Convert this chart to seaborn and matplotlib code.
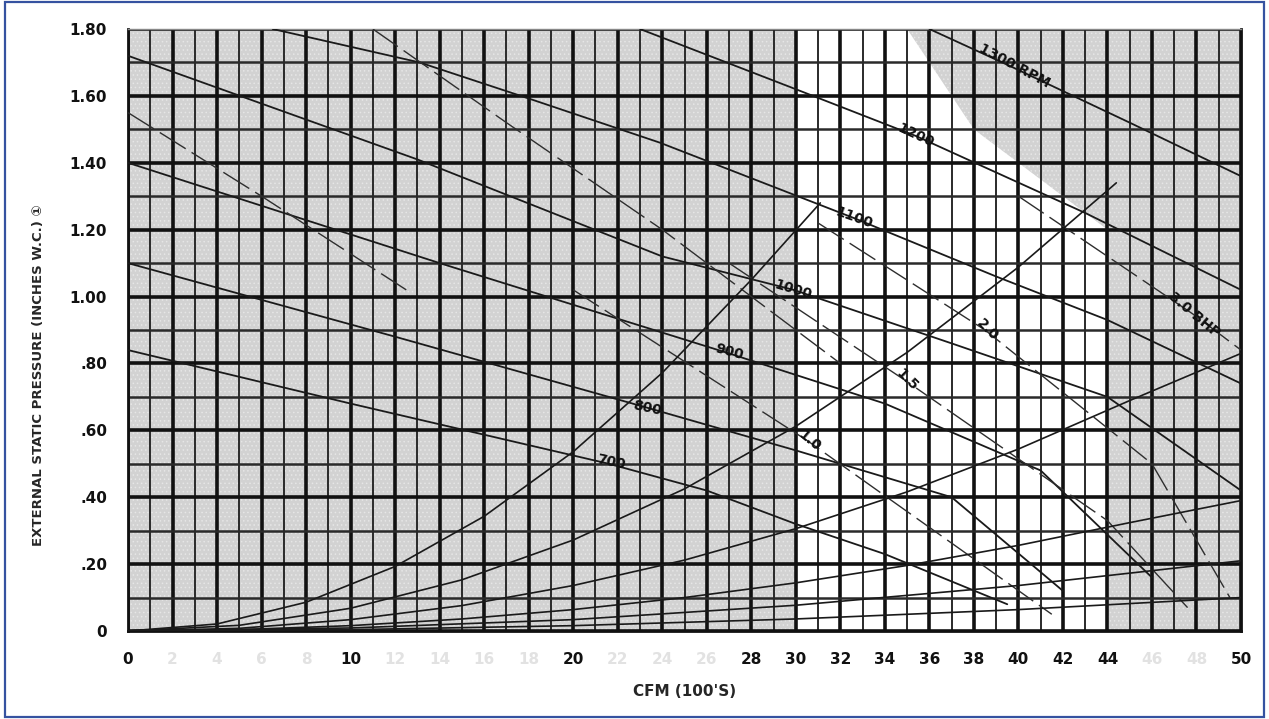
import numpy as np
import pandas as pd
import matplotlib
matplotlib.use("Agg")
import matplotlib.pyplot as plt
import seaborn as sns
from matplotlib.patches import Rectangle, Polygon

sns.set_theme(style="white")
plt.rcParams["font.family"] = ["DejaVu Sans"]
plt.rcParams["hatch.linewidth"] = 0.6

# ---------------- data ----------------
x_major_ticks = list(range(0, 51, 2))
x_labels_printed = [0, 10, 20, 28, 30, 32, 34, 36, 38, 40, 42, 44, 50]
y_major_ticks = [0.0, 0.2, 0.4, 0.6, 0.8, 1.0, 1.2, 1.4, 1.6, 1.8]
y_tick_labels = ["0", ".20", ".40", ".60", ".80", "1.00", "1.20", "1.40", "1.60", "1.80"]

# fan RPM curves (CFM in 100's, static pressure in. W.C.)
rpm_700_x = [0, 10, 21.6, 26, 30, 34, 39.5]
rpm_700_y = [0.84, 0.68, 0.50, 0.42, 0.32, 0.23, 0.08]
rpm_800_x = [0, 12, 23.2, 30, 37, 42]
rpm_800_y = [1.10, 0.88, 0.67, 0.54, 0.40, 0.12]
rpm_900_x = [0, 14, 27, 34, 41, 46]
rpm_900_y = [1.40, 1.10, 0.83, 0.68, 0.48, 0.16]
rpm_1000_x = [0, 13, 24, 29.9, 37, 44, 50]
rpm_1000_y = [1.72, 1.41, 1.12, 1.02, 0.86, 0.70, 0.42]
rpm_1100_x = [6.5, 13.1, 18.1, 23.9, 32.6, 39, 44, 50]
rpm_1100_y = [1.80, 1.70, 1.59, 1.46, 1.235, 1.06, 0.93, 0.74]
rpm_1200_x = [23, 30, 35.4, 43, 50]
rpm_1200_y = [1.80, 1.62, 1.48, 1.25, 1.02]
rpm_1300_x = [36, 39.6, 45, 50]
rpm_1300_y = [1.80, 1.69, 1.52, 1.36]

# brake horsepower lines
bhp_0_5_x = [0, 6, 12.5]
bhp_0_5_y = [1.55, 1.30, 1.02]
bhp_0_75_x = [11, 17, 24, 32]
bhp_0_75_y = [1.80, 1.52, 1.20, 0.80]
bhp_1_0_x = [20, 30.5, 41.5]
bhp_1_0_y = [1.02, 0.57, 0.05]
bhp_1_5_x = [27, 34.9, 44, 47.6]
bhp_1_5_y = [1.10, 0.75, 0.33, 0.07]
bhp_2_0_x = [31, 38.5, 46, 49.5]
bhp_2_0_y = [1.22, 0.90, 0.50, 0.10]
bhp_3_0_x = [40, 47.9, 50]
bhp_3_0_y = [1.30, 0.945, 0.84]

# system curves from the origin
sys_a_x = [0, 4, 8, 12, 16, 20, 24, 28, 31.1]
sys_a_y = [0, 0.021, 0.086, 0.193, 0.343, 0.536, 0.772, 1.05, 1.28]
sys_b_x = [0, 5, 10, 15, 20, 25, 30, 35, 40, 44.4]
sys_b_y = [0, 0.017, 0.068, 0.153, 0.272, 0.425, 0.612, 0.833, 1.088, 1.34]
sys_c_x = [0, 5, 10, 15, 20, 25, 30, 35, 40, 45, 50]
sys_c_y = [0, 0.008, 0.034, 0.076, 0.136, 0.212, 0.306, 0.416, 0.544, 0.689, 0.83]
sys_d_x = [0, 5, 10, 15, 20, 25, 30, 35, 40, 45, 50]
sys_d_y = [0, 0.004, 0.016, 0.036, 0.064, 0.100, 0.144, 0.196, 0.256, 0.324, 0.39]
sys_e_x = [0, 10, 20, 30, 40, 50]
sys_e_y = [0, 0.009, 0.034, 0.077, 0.136, 0.21]
sys_f_x = [0, 10, 20, 30, 40, 50]
sys_f_y = [0, 0.004, 0.016, 0.036, 0.064, 0.10]

rpm_names = ["700", "800", "900", "1000", "1100", "1200", "1300 RPM"]
bhp_names = ["1.0", "1.5", "2.0", "3.0 BHP"]

# ---------------- figure ----------------
fig = plt.figure(figsize=(12.69, 7.19), dpi=100)
ax = fig.add_axes([128 / 1269, 88 / 719, (1241 - 128) / 1269, (631 - 29) / 719])
ax.set_xlim(0, 50)
ax.set_ylim(0, 1.8)

# paper shading (screened grey with a white window)
ax.set_facecolor("#d2d2d2")
ax.add_patch(Rectangle((0, 0), 50, 1.8, facecolor="none", edgecolor="#e6e6e6",
                       hatch="....", lw=0, zorder=0.2))
white_zone = Polygon([(30, 0), (44, 0), (44, 1.20), (38, 1.50), (35, 1.80), (30, 1.80)],
                     closed=True, facecolor="white", edgecolor="none", zorder=0.5)
ax.add_patch(white_zone)

# grid
ax.set_xticks(x_major_ticks)
ax.set_xticks(np.arange(1, 50, 2), minor=True)
ax.set_yticks(y_major_ticks)
ax.set_yticks(np.arange(0.1, 1.8, 0.2), minor=True)
ax.grid(which="major", axis="x", color="#111111", lw=2.6, zorder=1)
ax.grid(which="minor", axis="x", color="#2a2a2a", lw=1.4, zorder=1)
ax.grid(which="major", axis="y", color="#111111", lw=2.6, zorder=1)
ax.grid(which="minor", axis="y", color="#2a2a2a", lw=1.8, zorder=1)
ax.set_axisbelow(True)

def draw(xs, ys, lw, color="#1a1a1a", ls="-"):
    sns.lineplot(x=xs, y=ys, ax=ax, color=color, lw=lw, sort=False,
                 estimator=None, zorder=3, linestyle=ls)

for xs, ys in [(rpm_700_x, rpm_700_y), (rpm_800_x, rpm_800_y), (rpm_900_x, rpm_900_y),
               (rpm_1000_x, rpm_1000_y), (rpm_1100_x, rpm_1100_y),
               (rpm_1200_x, rpm_1200_y), (rpm_1300_x, rpm_1300_y)]:
    draw(xs, ys, 1.3)
for xs, ys in [(bhp_0_5_x, bhp_0_5_y), (bhp_0_75_x, bhp_0_75_y),
               (bhp_1_0_x, bhp_1_0_y), (bhp_1_5_x, bhp_1_5_y),
               (bhp_2_0_x, bhp_2_0_y), (bhp_3_0_x, bhp_3_0_y)]:
    draw(xs, ys, 1.0, "#2e2e2e", (0, (22, 5)))
for xs, ys in [(sys_a_x, sys_a_y), (sys_b_x, sys_b_y), (sys_c_x, sys_c_y),
               (sys_d_x, sys_d_y), (sys_e_x, sys_e_y), (sys_f_x, sys_f_y)]:
    draw(xs, ys, 1.2)

# curve labels
rpm_label_pos = [(21.7, 0.505, -12), (23.3, 0.667, -12), (27.0, 0.834, -15),
                 (29.9, 1.02, -17), (32.6, 1.235, -20), (35.4, 1.48, -25),
                 (39.8, 1.69, -28)]
for name, (lx, ly, rot) in zip(rpm_names, rpm_label_pos):
    ax.text(lx, ly, name, rotation=rot, ha="center", va="center", fontsize=10,
            fontweight="bold", color="#111111", zorder=5)
bhp_label_pos = [(30.6, 0.57, -40), (35.0, 0.75, -45), (38.6, 0.90, -45), (47.9, 0.945, -40)]
for name, (lx, ly, rot) in zip(bhp_names, bhp_label_pos):
    ax.text(lx, ly, name, rotation=rot, ha="center", va="center", fontsize=10,
            fontweight="bold", color="#111111", zorder=5)

# ticks
ax.set_xticklabels([str(v) for v in x_major_ticks])
for lab, v in zip(ax.get_xticklabels(), x_major_ticks):
    lab.set_color("#111111" if v in x_labels_printed else "#e2e2e2")
ax.set_yticklabels(y_tick_labels)
ax.tick_params(axis="x", which="major", direction="out", length=12, width=2.2,
               color="#111111", pad=3, labelsize=11)
ax.tick_params(axis="y", which="major", direction="out", length=13, width=1.2,
               color="#111111", pad=2, labelsize=11, labelcolor="#111111")
ax.tick_params(which="minor", length=0)
for lab in ax.get_xticklabels() + ax.get_yticklabels():
    lab.set_fontweight("bold")

for side in ["left", "bottom", "right"]:
    ax.spines[side].set_color("#111111")
    ax.spines[side].set_linewidth(2.0)
ax.spines["top"].set_color("#888888")
ax.spines["top"].set_linewidth(1.0)

ax.set_xlabel("CFM (100'S)", fontsize=11, fontweight="bold", labelpad=12)
ax.set_ylabel("EXTERNAL STATIC PRESSURE (INCHES W.C.) \u2460", fontsize=9.5,
              fontweight="bold")
ax.yaxis.set_label_coords(-0.075, 0.425)

fig.patches.append(Rectangle((0.004, 0.003), 0.992, 0.994, transform=fig.transFigure,
                             fill=False, edgecolor="#3552a0", lw=1.6))

fig.savefig("out.png", dpi=100)
